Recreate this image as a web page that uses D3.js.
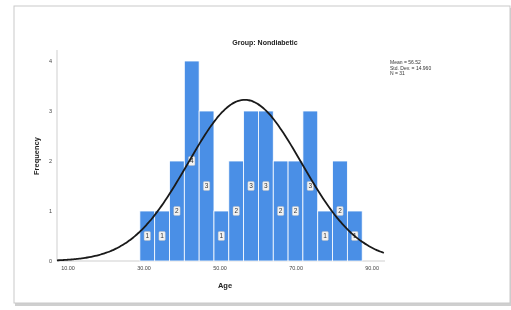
<!DOCTYPE html>
<html>
<head>
<meta charset="utf-8">
<script src="https://cdn.jsdelivr.net/npm/d3@7"></script>
<style>
  body { margin: 0; background: #fff; }
  svg { display: block; font-family: Arial, "Liberation Sans", sans-serif; filter: blur(0.45px); }
</style>
</head>
<body>
<script>
// histogram bins (lower edge of each bin) and counts
const binStarts = [28.9, 32.8, 36.7, 40.6, 44.5, 48.4, 52.3, 56.2, 60.1, 64.0, 67.9, 71.8, 75.7, 79.6, 83.5];
const binWidth = 3.9;
const counts = [1, 1, 2, 4, 3, 1, 2, 3, 3, 2, 2, 3, 1, 2, 1];
const xTicks = [10, 30, 50, 70, 90];
const yTicks = [0, 1, 2, 3, 4];
const stats = { mean: 56.52, sd: 14.96, n: 31 };
const legendLines = ["Mean = 56.52", "Std. Dev. = 14.960", "N = 31"];

const W = 511, H = 310;
const svg = d3.select('body').append('svg')
  .attr('width', W)
  .attr('height', H);

// card with border/shadow
svg.append('rect')
  .attr('x', 15).attr('y', 8).attr('width', 496).attr('height', 298)
  .attr('fill', '#cfcfcf');
svg.append('rect')
  .attr('x', 14).attr('y', 6).attr('width', 496).attr('height', 297)
  .attr('fill', '#fff')
  .attr('stroke', '#c9c9c9')
  .attr('stroke-width', 1);

let x = d3.scaleLinear().domain([7.1, 93.4]).range([57, 385]);
let y = d3.scaleLinear().domain([0, 4]).range([261, 61]);

// axes lines
svg.append('line')
  .attr('x1', 57).attr('x2', 57).attr('y1', 50).attr('y2', 261)
  .attr('stroke', '#cfcfcf');
svg.append('line')
  .attr('x1', 57).attr('x2', 385).attr('y1', 261).attr('y2', 261)
  .attr('stroke', '#cfcfcf');

let g = svg.append('g');

// bars
g.selectAll('rect.bar')
  .data(counts)
  .enter().append('rect')
  .attr('class', 'bar')
  .attr('x', (d, i) => x(binStarts[i]))
  .attr('width', (d, i) => x(binStarts[i] + binWidth) - x(binStarts[i]))
  .attr('y', d => y(d))
  .attr('height', d => y(0) - y(d))
  .attr('fill', '#4a8fe6')
  .style('stroke', '#ffffff')
  .style('stroke-width', 0.8);

// labels inside bars
let lab = g.selectAll('g.lab')
  .data(counts)
  .enter().append('g')
  .attr('class', 'lab')
  .attr('transform', (d, i) => `translate(${x(binStarts[i] + binWidth / 2)},${y(d / 2)})`);
lab.append('rect')
  .attr('x', -3.2).attr('y', -4.5).attr('width', 6.4).attr('height', 9)
  .attr('rx', 1.2)
  .attr('fill', '#f2f2f2')
  .attr('stroke', '#bbbbbb')
  .attr('stroke-width', 0.4);
lab.append('text')
  .attr('text-anchor', 'middle')
  .attr('dy', '0.35em')
  .attr('font-size', 6.5)
  .attr('fill', '#333')
  .text(d => d);

// normal curve
let pts = d3.range(x.domain()[0], x.domain()[1] + 0.01, 0.5);
let pdf = v => stats.n * binWidth / (stats.sd * Math.sqrt(2 * Math.PI)) *
  Math.exp(-0.5 * Math.pow((v - stats.mean) / stats.sd, 2));
g.append('path')
  .attr('d', d3.line().x(v => x(v)).y(v => y(pdf(v))).curve(d3.curveBasis)(pts))
  .style('fill', 'none')
  .style('stroke', '#1a1a1a')
  .style('stroke-width', 1.8);

// tick labels
svg.selectAll('text.xt')
  .data(xTicks)
  .enter().append('text')
  .attr('x', d => x(d)).attr('y', 270)
  .attr('text-anchor', 'middle')
  .attr('font-size', 5.5)
  .attr('fill', '#444')
  .text(d => d.toFixed(2));
svg.selectAll('text.yt')
  .data(yTicks)
  .enter().append('text')
  .attr('x', 52).attr('y', d => y(d))
  .attr('dy', '0.35em')
  .attr('text-anchor', 'end')
  .attr('font-size', 5.5)
  .attr('fill', '#444')
  .text(d => d);

// titles
svg.append('text')
  .attr('x', 265).attr('y', 45)
  .attr('text-anchor', 'middle')
  .attr('font-size', 7)
  .attr('font-weight', 'bold')
  .attr('fill', '#222')
  .text('Group: Nondiabetic');
svg.append('text')
  .attr('x', 225).attr('y', 288)
  .attr('text-anchor', 'middle')
  .attr('font-size', 7.5)
  .attr('font-weight', 'bold')
  .attr('fill', '#222')
  .text('Age');
svg.append('text')
  .attr('transform', 'translate(39,156) rotate(-90)')
  .attr('text-anchor', 'middle')
  .attr('font-size', 7.5)
  .attr('font-weight', 'bold')
  .attr('fill', '#222')
  .text('Frequency');

// legend
svg.selectAll('text.leg')
  .data(legendLines)
  .enter().append('text')
  .attr('x', 390).attr('y', (d, i) => 64 + i * 5.5)
  .attr('font-size', 5)
  .attr('fill', '#333')
  .text(d => d);
</script>
</body>
</html>
